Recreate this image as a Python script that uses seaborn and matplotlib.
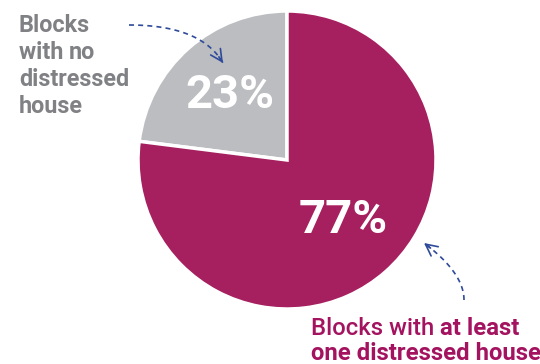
import numpy as np
import matplotlib
matplotlib.use("Agg")
import matplotlib.pyplot as plt
import seaborn as sns

# ---- data ----
categories = ["Blocks with no distressed house", "Blocks with at least one distressed house"]
shares = [23, 77]
pct_labels = ["23%", "77%"]
slice_colors = ["#BCBDC0", "#A61F5F"]

sns.set_theme(style="white")
plt.rcParams['font.family'] = ['Roboto', 'DejaVu Sans']

W, H = 540, 364
fig = plt.figure(figsize=(W / 100, H / 100), dpi=100)
ax = fig.add_axes([0, 0, 1, 1])

cx, cy, R = 287, H - 160, 149
wedges, _ = ax.pie(shares, colors=slice_colors, startangle=90, counterclock=True,
                   center=(cx, cy), radius=R,
                   wedgeprops=dict(edgecolor="white", linewidth=2.5))
ax.set_xlim(0, W)
ax.set_ylim(0, H)
ax.set_aspect('equal')
ax.axis('off')

# percent labels at slice mid-angles
dists = [0.58, 0.55]
for w, lab, d in zip(wedges, pct_labels, dists):
    ang = np.deg2rad((w.theta1 + w.theta2) / 2 + (2 if d < 0.57 else 0))
    ax.text(cx + d * R * np.cos(ang), cy + d * R * np.sin(ang), lab,
            ha='center', va='center', color='white', fontsize=34, fontweight='bold')

grey_txt = "#808184"
mag_txt = "#A4135F"

# left label
fs = 16.8
ax.text(19, H - 14, "Blocks", ha='left', va='top', color=grey_txt,
        fontsize=fs, fontweight='bold')
t = ax.text(19, H - 41, "with ", ha='left', va='top', color=grey_txt, fontsize=fs, fontweight='bold')
ax.annotate("no", xy=(1, 1), xycoords=t, ha='left', va='top', color=grey_txt,
            fontsize=fs, fontweight='bold')
ax.text(19, H - 68, "distressed", ha='left', va='top', color=grey_txt, fontsize=fs, fontweight='bold')
ax.text(19, H - 95, "house", ha='left', va='top', color=grey_txt, fontsize=fs, fontweight='bold')

# bottom label
fs2 = 17.2
b1 = ax.text(311, H - 335, "Blocks with ", ha='left', va='baseline', color=mag_txt,
             fontsize=fs2, fontweight='medium')
ax.annotate("at least", xy=(1, 0), xycoords=b1, ha='left', va='bottom', color=mag_txt,
            fontsize=fs2, fontweight='bold')
ax.text(311, H - 360, "one distressed house", ha='left', va='baseline', color=mag_txt,
        fontsize=fs2, fontweight='bold')

# dashed curved arrows (quadratic Bezier)
arrow_c = "#2E4A9A"
def bez(p0, p1, p2, n=60):
    t = np.linspace(0, 1, n)[:, None]
    return (1 - t) ** 2 * np.array(p0) + 2 * (1 - t) * t * np.array(p1) + t ** 2 * np.array(p2)

for p0, p1, p2 in [((129, H - 25), (201, H - 25), (223, H - 63)),
                   ((464, H - 300), (464, H - 273), (424, H - 243))]:
    pts = bez(p0, p1, p2)
    ax.plot(pts[:, 0], pts[:, 1], color=arrow_c, lw=1.2, ls=(0, (3, 2.5)))
    ax.annotate("", xy=pts[-1], xytext=pts[-6],
                arrowprops=dict(arrowstyle="->,head_length=0.7,head_width=0.35",
                                color=arrow_c, lw=1.2, shrinkA=0, shrinkB=0))

fig.savefig("out.png", dpi=100, facecolor="white")
